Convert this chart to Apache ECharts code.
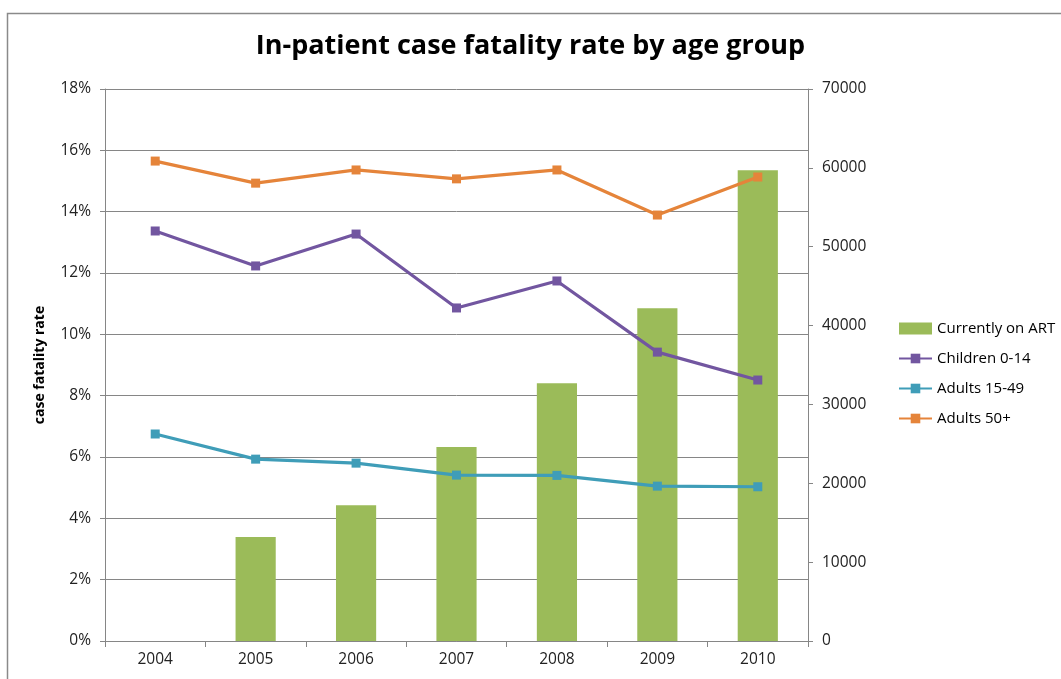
<!DOCTYPE html>
<html><head><meta charset="utf-8">
<script src="https://cdn.jsdelivr.net/npm/echarts@6/dist/echarts.min.js"></script>
<style>html,body{margin:0;padding:0;background:#fff}#c{width:1061px;height:679px}</style>
</head><body><div id="c"></div>
<script>
var years = ['2004','2005','2006','2007','2008','2009','2010'];
var onART = [null, 13200, 17200, 24600, 32700, 42200, 59700];
var children = [13.37, 12.23, 13.27, 10.86, 11.74, 9.42, 8.51];
var adults1549 = [6.75, 5.93, 5.80, 5.41, 5.40, 5.05, 5.03];
var adults50 = [15.65, 14.93, 15.36, 15.07, 15.36, 13.89, 15.13];

var chart = echarts.init(document.getElementById('c'));
var font = 'Open Sans, sans-serif';
function lineSeries(name, data, color) {
  return {
    name: name, type: 'line', yAxisIndex: 0, data: data,
    symbol: 'rect', symbolSize: 9, showSymbol: true,
    lineStyle: {color: color, width: 3.2},
    itemStyle: {color: color},
    z: 3
  };
}
chart.setOption({
  animation: false,
  textStyle: {fontFamily: font},
  graphic: [{type: 'rect', shape: {x: 7.5, y: 13.5, width: 1100, height: 700},
    style: {fill: 'none', stroke: '#8a8a8a', lineWidth: 1.5}, z: -1}],
  title: {text: 'In-patient case fatality rate by age group', left: 'center', top: 28,
    textStyle: {fontFamily: font, fontSize: 27, fontWeight: 'bold', color: '#000'}},
  legend: {orient: 'vertical', left: 893, top: 316, itemGap: 15, itemWidth: 33, itemHeight: 12,
    textStyle: {fontFamily: font, fontSize: 15, color: '#000'},
    data: [{name: 'Currently on ART', icon: 'rect'}, 'Children 0-14', 'Adults 15-49', 'Adults 50+']},
  grid: {left: 105, right: 253, top: 89, bottom: 38},
  xAxis: {type: 'category', data: years,
    axisLine: {lineStyle: {color: '#868686', width: 1}},
    axisTick: {show: true, inside: false, length: 6, interval: 0, lineStyle: {color: '#868686'}},
    axisLabel: {color: '#222', fontSize: 15.5, margin: 11}},
  yAxis: [{type: 'value', min: 0, max: 18, interval: 2, position: 'left',
    name: 'case fatality rate', nameLocation: 'middle', nameGap: 58, nameRotate: 90,
    nameTextStyle: {fontWeight: 'bold', fontSize: 14, color: '#000'},
    axisLine: {show: true, lineStyle: {color: '#868686'}},
    axisTick: {show: true, length: 5, lineStyle: {color: '#868686'}},
    axisLabel: {formatter: '{value}%', color: '#222', fontSize: 15.5, margin: 14},
    splitLine: {lineStyle: {color: '#868686', width: 1}}},
   {type: 'value', min: 0, max: 70000, interval: 10000, position: 'right',
    axisLine: {show: true, lineStyle: {color: '#868686'}},
    axisTick: {show: true, length: 5, lineStyle: {color: '#868686'}},
    axisLabel: {color: '#222', fontSize: 15.5, margin: 14, formatter: function (v) { return String(v); }},
    splitLine: {show: false}}],
  series: [
    {name: 'Currently on ART', type: 'bar', yAxisIndex: 1, data: onART, barWidth: '40%',
     itemStyle: {color: '#9BBB59'}, z: 2},
    lineSeries('Children 0-14', children, '#7256A0'),
    lineSeries('Adults 15-49', adults1549, '#3F9DB8'),
    lineSeries('Adults 50+', adults50, '#E5843A')
  ]
});
</script></body></html>
